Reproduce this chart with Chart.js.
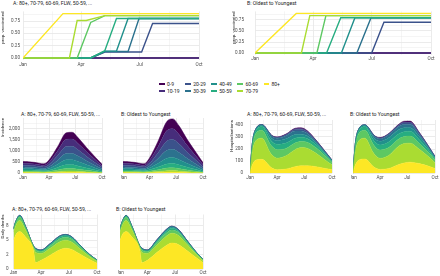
<!DOCTYPE html>
<html>
<head>
<meta charset="utf-8">
<script src="https://cdn.jsdelivr.net/npm/chart.js@4.4.1/dist/chart.umd.min.js"></script>
<style>
  html, body { margin: 0; padding: 0; background: #fff; }
  body { width: 440px; height: 276px; position: relative; overflow: hidden; font-family: Roboto, "Liberation Sans", sans-serif; }
  canvas { position: absolute; }
  .title { position: absolute; font-size: 5.2px; line-height: 1; color: #1a1a1a; white-space: nowrap; }
  #legend { position: absolute; left: 159px; top: 80px; display: grid; grid-template-rows: 7px 7px; grid-auto-flow: column; column-gap: 5.5px; font-size: 5px; color: #1a1a1a; }
  .item { display: flex; align-items: center; white-space: nowrap; }
  .key { display: inline-block; width: 5.5px; height: 2px; margin-right: 2.5px; }
</style>
</head>
<body>
<div class="title" style="left:13px;top:1.4px">A: 80+, 70-79, 60-69, FLW, 50-59, ...</div>
<div class="title" style="left:247px;top:1.4px">B: Oldest to Youngest</div>
<div class="title" style="left:21px;top:112.4px">A: 80+, 70-79, 60-69, FLW, 50-59, ...</div>
<div class="title" style="left:121px;top:112.4px">B: Oldest to Youngest</div>
<div class="title" style="left:247px;top:112.4px">A: 80+, 70-79, 60-69, FLW, 50-59, ...</div>
<div class="title" style="left:350px;top:112.4px">B: Oldest to Youngest</div>
<div class="title" style="left:12px;top:207.4px">A: 80+, 70-79, 60-69, FLW, 50-59, ...</div>
<div class="title" style="left:116px;top:207.4px">B: Oldest to Youngest</div>
<div id="legend"></div>
<script>
// age groups, youngest first (legend order)
const ageGroups = ['0-9', '10-19', '20-29', '30-39', '40-49', '50-59', '60-69', '70-79', '80+'];
const ageColors = ['#440154', '#472D7B', '#3B528B', '#2C728E', '#21908C', '#27AD81', '#5DC863', '#AADC32', '#FDE725'];

// x axis: day of year
const monthTicks = [0, 90, 181, 273];
const monthLabels = ['Jan', 'Apr', 'Jul', 'Oct'];

const vaxTicks = [0, 0.25, 0.5, 0.75];
const vaxTickLabels = ['0.00', '0.25', '0.50', '0.75'];
const incTicks = [0, 500, 1000, 1500, 2000];
const incTickLabels = ['0', '500', '1,000', '1,500', '2,000'];
const hospTicks = [0, 100, 200, 300, 400];
const hospTickLabels = ['0', '100', '200', '300', '400'];
const deathTicks = [0, 2.5, 5, 7.5];
const deathTickLabels = ['0', '2', '5', '8'];

// proportion vaccinated, strategy A (breakpoints per age group)
const vaxA_days = [
    [0, 273],
    [0, 273],
    [0, 105, 127, 184, 201, 273],
    [0, 105, 127, 163, 180, 273],
    [0, 105, 127, 145, 163, 273],
    [0, 105, 127, 145, 273],
    [0, 84, 105, 127, 273],
    [0, 72, 84, 98, 127, 273],
    [0, 62, 273]
];
const vaxA_vals = [
    [0, 0],
    [0, 0],
    [0, 0, 0.12, 0.12, 0.70, 0.70],
    [0, 0, 0.13, 0.13, 0.80, 0.80],
    [0, 0, 0.14, 0.14, 0.80, 0.80],
    [0, 0, 0.15, 0.80, 0.80],
    [0, 0, 0.72, 0.86, 0.86],
    [0, 0, 0.76, 0.76, 0.86, 0.86],
    [0, 0.90, 0.90]
];

// proportion vaccinated, strategy B
const vaxB_days = [
    [0, 273],
    [0, 273],
    [0, 181, 200, 273],
    [0, 158, 180, 273],
    [0, 134, 155, 273],
    [0, 111, 133, 273],
    [0, 96, 110, 273],
    [0, 72, 85, 273],
    [0, 64, 273]
];
const vaxB_vals = [
    [0, 0],
    [0, 0],
    [0, 0, 0.70, 0.70],
    [0, 0, 0.80, 0.80],
    [0, 0, 0.80, 0.80],
    [0, 0, 0.80, 0.80],
    [0, 0, 0.85, 0.85],
    [0, 0, 0.85, 0.85],
    [0, 0.90, 0.90]
];

// common day grid for the stacked areas
const areaDays = [0, 8, 20, 40, 65, 72, 90, 120, 150, 170, 190, 220, 250, 273];

// incidence, strategy A
const incA = [
    [76, 77, 75, 72, 65, 65, 94, 186, 295, 300, 262, 187, 117, 66],
    [90, 89, 88, 83, 74, 74, 107, 215, 325, 330, 287, 206, 129, 74],
    [85, 84, 82, 79, 70, 70, 103, 210, 317, 320, 278, 200, 125, 71],
    [69, 68, 67, 64, 57, 57, 84, 180, 277, 280, 243, 175, 110, 62],
    [61, 60, 59, 57, 50, 50, 71, 150, 228, 230, 200, 144, 90, 51],
    [50, 50, 49, 47, 41, 40, 55, 112, 168, 170, 148, 106, 66, 38],
    [40, 39, 39, 37, 32, 31, 40, 75, 110, 110, 95, 69, 43, 25],
    [32, 32, 31, 29, 24, 22, 26, 42, 60, 60, 52, 38, 24, 14],
    [27, 26, 25, 22, 17, 16, 20, 30, 40, 40, 35, 25, 16, 9]
];
// incidence, strategy B
const incB = [
    [76, 77, 75, 72, 65, 65, 110, 248, 416, 439, 387, 270, 165, 87],
    [90, 89, 88, 83, 74, 74, 123, 275, 465, 488, 430, 300, 184, 96],
    [85, 84, 82, 79, 70, 70, 117, 258, 420, 440, 387, 270, 166, 86],
    [69, 68, 67, 64, 57, 57, 96, 216, 350, 366, 322, 225, 138, 72],
    [61, 60, 59, 57, 50, 50, 80, 170, 257, 268, 236, 165, 101, 53],
    [50, 50, 49, 47, 41, 40, 61, 125, 187, 195, 172, 120, 74, 38],
    [40, 39, 39, 37, 32, 31, 44, 80, 118, 122, 108, 75, 46, 24],
    [32, 32, 31, 29, 24, 22, 28, 46, 70, 73, 65, 45, 28, 14],
    [27, 26, 25, 22, 17, 16, 21, 32, 47, 49, 43, 30, 18, 10]
];

// hospitalisations
const hospA = [
    [0, 0, 1, 1, 1, 1, 2, 3, 5, 6, 5, 3, 2, 1],
    [0, 0, 0, 0, 1, 1, 2, 3, 5, 6, 5, 3, 1, 1],
    [0, 0, 1, 1, 3, 4, 6, 8, 12, 14, 12, 6, 3, 1],
    [0, 2, 3, 3, 15, 18, 20, 25, 30, 28, 22, 12, 6, 3],
    [0, 8, 10, 12, 25, 25, 30, 35, 30, 25, 22, 15, 10, 6],
    [0, 20, 25, 30, 40, 40, 45, 45, 40, 35, 30, 25, 15, 8],
    [0, 40, 60, 65, 70, 70, 70, 60, 55, 50, 50, 45, 35, 20],
    [0, 110, 160, 175, 120, 110, 95, 110, 140, 150, 145, 110, 70, 40],
    [0, 70, 110, 115, 60, 45, 30, 35, 55, 62, 62, 55, 40, 30]
];
const hospB = [
    [0, 0, 1, 0, 1, 1, 3, 2, 4, 7, 8, 3, 1, 2],
    [0, 0, 0, 0, 1, 1, 2, 2, 4, 6, 6, 4, 2, 1],
    [0, 0, 1, 1, 3, 4, 6, 6, 10, 14, 15, 10, 5, 2],
    [0, 2, 3, 2, 15, 17, 20, 25, 25, 28, 25, 18, 10, 5],
    [0, 8, 10, 12, 22, 25, 30, 35, 35, 32, 30, 25, 15, 8],
    [0, 20, 25, 30, 38, 38, 42, 45, 42, 40, 40, 32, 22, 12],
    [0, 40, 60, 65, 70, 68, 68, 65, 60, 58, 58, 48, 35, 22],
    [0, 110, 160, 172, 118, 108, 92, 110, 150, 160, 157, 120, 80, 48],
    [0, 70, 110, 118, 62, 48, 32, 40, 70, 85, 92, 80, 60, 40]
];

// daily deaths
const deathA = [
    [0.01, 0.01, 0.01, 0.01, 0.01, 0.01, 0.01, 0.01, 0.01, 0.01, 0.01, 0.01, 0.01, 0.01],
    [0.01, 0.01, 0.01, 0.01, 0.01, 0.01, 0.01, 0.01, 0.01, 0.01, 0.01, 0.01, 0.01, 0.01],
    [0.01, 0.01, 0.01, 0.01, 0.01, 0.01, 0.01, 0.01, 0.01, 0.01, 0.01, 0.01, 0.01, 0.01],
    [0.02, 0.02, 0.04, 0.03, 0.02, 0.04, 0.04, 0.06, 0.07, 0.07, 0.06, 0.04, 0.02, 0.01],
    [0.05, 0.05, 0.07, 0.05, 0.03, 0.08, 0.08, 0.12, 0.15, 0.15, 0.12, 0.07, 0.05, 0.02],
    [0.12, 0.13, 0.18, 0.12, 0.05, 0.15, 0.15, 0.20, 0.25, 0.25, 0.20, 0.12, 0.08, 0.05],
    [0.40, 0.50, 0.60, 0.40, 0.15, 0.40, 0.30, 0.40, 0.50, 0.50, 0.50, 0.35, 0.20, 0.12],
    [1.40, 1.60, 1.90, 1.20, 0.45, 1.80, 1.20, 1.20, 1.40, 1.40, 1.30, 0.90, 0.50, 0.35],
    [5.00, 6.00, 6.50, 5.50, 3.30, 1.10, 1.50, 2.40, 3.30, 3.60, 3.40, 2.50, 1.60, 1.00]
];
const deathB = [
    [0.01, 0.01, 0.01, 0.01, 0.01, 0.01, 0.01, 0.01, 0.01, 0.01, 0.01, 0.01, 0.01, 0.01],
    [0.01, 0.01, 0.01, 0.01, 0.01, 0.01, 0.01, 0.01, 0.01, 0.01, 0.01, 0.01, 0.01, 0.01],
    [0.01, 0.01, 0.01, 0.01, 0.01, 0.01, 0.01, 0.02, 0.03, 0.03, 0.03, 0.02, 0.01, 0.01],
    [0.02, 0.02, 0.04, 0.03, 0.02, 0.04, 0.04, 0.08, 0.10, 0.10, 0.08, 0.05, 0.02, 0.01],
    [0.05, 0.05, 0.07, 0.05, 0.03, 0.08, 0.08, 0.14, 0.20, 0.22, 0.18, 0.10, 0.05, 0.03],
    [0.12, 0.13, 0.18, 0.12, 0.05, 0.15, 0.15, 0.22, 0.30, 0.30, 0.25, 0.15, 0.08, 0.05],
    [0.40, 0.50, 0.60, 0.40, 0.15, 0.40, 0.30, 0.40, 0.50, 0.55, 0.50, 0.35, 0.20, 0.12],
    [1.40, 1.60, 1.90, 1.20, 0.45, 1.80, 1.20, 1.30, 1.60, 1.70, 1.60, 1.10, 0.60, 0.35],
    [5.00, 6.00, 6.50, 5.50, 3.30, 1.10, 1.50, 2.80, 4.00, 4.50, 4.30, 3.20, 2.00, 1.10]
];

// where each plot panel sits on the page
const boxes = {
    vaxA:   { L: 23,   R: 199, T: 11.4,  B: 60.2,  yw: 23,   xh: 7 },
    vaxB:   { L: 255,  R: 431, T: 11.4,  B: 55,    yw: 24,   xh: 7 },
    incA:   { L: 23,   R: 102, T: 118,   B: 173.3, yw: 23,   xh: 7 },
    incB:   { L: 123,  R: 203, T: 118,   B: 173.3, yw: 2,    xh: 7 },
    hospA:  { L: 250,  R: 332, T: 120,   B: 173.3, yw: 21,   xh: 7 },
    hospB:  { L: 353,  R: 435, T: 120,   B: 173.3, yw: 2,    xh: 7 },
    deathA: { L: 13.5, R: 97,  T: 214.5, B: 269,   yw: 13.5, xh: 7 },
    deathB: { L: 120,  R: 203, T: 214.5, B: 269,   yw: 2,    xh: 7 }
};

Chart.defaults.font.family = 'Roboto, sans-serif';
Chart.defaults.color = '#4d4d4d';

const gridColor = '#e9e9e9';
const gridWidth = ctx => (ctx.tick && ctx.tick.minor) ? 0.45 : 0.9;

function withMinor(majors, max) {
    const out = [];
    majors.forEach((v, i) => {
        out.push({ value: v });
        const next = i < majors.length - 1 ? majors[i + 1] : v + (v - majors[i - 1]);
        const mid = (v + next) / 2;
        if (mid <= max) out.push({ value: mid, minor: true });
    });
    return out;
}

function xScale(box) {
    return {
        type: 'linear', min: 0, max: 273,
        afterBuildTicks: s => { s.ticks = withMinor(monthTicks, 273); },
        afterFit: s => { s.height = box.xh; s.paddingLeft = 0; s.paddingRight = 0; },
        grid: { color: gridColor, lineWidth: gridWidth, drawTicks: false },
        border: { display: false },
        ticks: {
            autoSkip: false, maxRotation: 0, padding: 1.5, font: { size: 4.6 },
            callback: (v, i, t) => t[i].minor ? '' : monthLabels[monthTicks.indexOf(v)]
        }
    };
}

function yScale(box, min, max, majors, labels, title, pad, stacked) {
    return {
        type: 'linear', min: min, max: max, stacked: stacked,
        afterBuildTicks: s => { s.ticks = withMinor(majors, max); },
        afterFit: s => { s.width = box.yw; s.paddingTop = 0; s.paddingBottom = 0; },
        grid: { color: gridColor, lineWidth: gridWidth, drawTicks: false },
        border: { display: false },
        ticks: {
            display: !!labels, autoSkip: false, padding: pad, font: { size: 4.6 },
            callback: (v, i, t) => (!labels || t[i].minor) ? '' : labels[majors.indexOf(v)]
        },
        title: { display: !!title, text: title || '', align: 'end', padding: 0, color: '#1a1a1a', font: { size: 4.4 } }
    };
}

function makeCanvas(box) {
    const left = Math.floor(box.L - box.yw);
    const top = Math.floor(box.T - 3);
    const right = Math.min(440, Math.ceil(box.R + 7));
    const bottom = Math.ceil(box.B + box.xh + 1);
    const cv = document.createElement('canvas');
    cv.width = right - left;
    cv.height = bottom - top;
    cv.style.left = left + 'px';
    cv.style.top = top + 'px';
    document.body.appendChild(cv);
    const padding = {
        left: box.L - box.yw - left,
        top: box.T - top,
        right: right - box.R,
        bottom: bottom - box.B - box.xh
    };
    return { ctx: cv.getContext('2d'), padding: padding };
}

function vaxDatasets(days, vals) {
    return ageGroups.map((g, i) => ({
        label: g,
        data: days[i].map((d, j) => ({ x: d, y: vals[i][j] })),
        borderColor: ageColors[i],
        borderWidth: 1.4,
        pointRadius: 0,
        fill: false,
        tension: 0,
        order: ageGroups.length - i
    }));
}

function areaDatasets(rows) {
    const idx = ageGroups.map((g, i) => i).reverse();  // 80+ at the bottom of the stack
    return idx.map((i, k) => ({
        label: ageGroups[i],
        data: areaDays.map((d, j) => ({ x: d, y: rows[i][j] })),
        backgroundColor: ageColors[i],
        borderColor: ageColors[i],
        borderWidth: 0.5,
        pointRadius: 0,
        fill: k === 0 ? 'origin' : '-1',
        cubicInterpolationMode: 'monotone'
    }));
}

function drawPanel(box, datasets, y) {
    const c = makeCanvas(box);
    new Chart(c.ctx, {
        type: 'line',
        data: { datasets: datasets },
        options: {
            responsive: false,
            animation: false,
            events: [],
            layout: { padding: c.padding },
            plugins: { legend: { display: false }, tooltip: { enabled: false } },
            scales: { x: xScale(box), y: y }
        }
    });
}

drawPanel(boxes.vaxA, vaxDatasets(vaxA_days, vaxA_vals),
    yScale(boxes.vaxA, -0.045, 0.945, vaxTicks, vaxTickLabels, 'prop. vaccinated', 3, false));
drawPanel(boxes.vaxB, vaxDatasets(vaxB_days, vaxB_vals),
    yScale(boxes.vaxB, -0.045, 0.945, vaxTicks, vaxTickLabels, 'prop. vaccinated', 11, false));

drawPanel(boxes.incA, areaDatasets(incA),
    yScale(boxes.incA, 0, 2480, incTicks, incTickLabels, 'Incidence', 3, true));
drawPanel(boxes.incB, areaDatasets(incB),
    yScale(boxes.incB, 0, 2480, incTicks, null, null, 0, true));

drawPanel(boxes.hospA, areaDatasets(hospA),
    yScale(boxes.hospA, 0, 440, hospTicks, hospTickLabels, 'Hospitalisations', 7, true));
drawPanel(boxes.hospB, areaDatasets(hospB),
    yScale(boxes.hospB, 0, 440, hospTicks, null, null, 0, true));

drawPanel(boxes.deathA, areaDatasets(deathA),
    yScale(boxes.deathA, 0, 9.45, deathTicks, deathTickLabels, 'Daily deaths', 5, true));
drawPanel(boxes.deathB, areaDatasets(deathB),
    yScale(boxes.deathB, 0, 9.45, deathTicks, null, null, 0, true));

// legend: two rows, filled column by column
const legend = document.getElementById('legend');
ageGroups.forEach((g, i) => {
    const item = document.createElement('div');
    item.className = 'item';
    item.innerHTML = `<span class="key" style="background:${ageColors[i]}"></span>${g}`;
    legend.appendChild(item);
});
</script>
</body>
</html>
